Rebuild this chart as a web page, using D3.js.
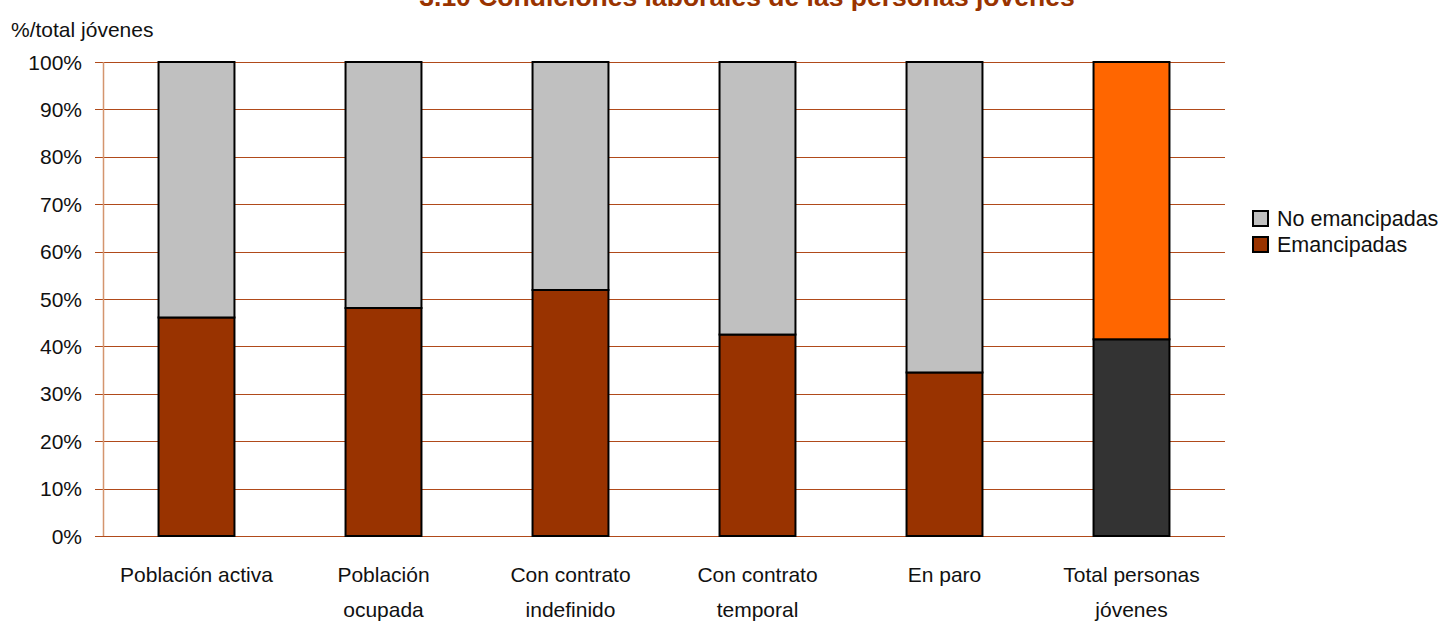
<!DOCTYPE html>
<html>
<head>
<meta charset="utf-8">
<script src="https://cdn.jsdelivr.net/npm/d3@7"></script>
<style>
  html, body { margin: 0; padding: 0; background: #fff; }
  svg { display: block; font-family: "Liberation Sans", Arial, sans-serif; }
</style>
</head>
<body>
<svg id="chart" width="1442" height="622"></svg>
<script>
// chart data
const categories = ['Población activa', 'Población ocupada', 'Con contrato indefinido', 'Con contrato temporal', 'En paro', 'Total personas jóvenes'];
const categoryLines = [['Población activa'], ['Población', 'ocupada'], ['Con contrato', 'indefinido'], ['Con contrato', 'temporal'], ['En paro'], ['Total personas', 'jóvenes']];
const emancipadas = [46.1, 48.1, 51.9, 42.5, 34.5, 41.5];
const noEmancipadas = [53.9, 51.9, 48.1, 57.5, 65.5, 58.5];
const yTicks = [0, 10, 20, 30, 40, 50, 60, 70, 80, 90, 100];
const seriesNames = ['No emancipadas', 'Emancipadas'];

const BROWN = '#993300';
const GRAY = '#c0c0c0';
const GRID = '#b04a1a';

const svg = d3.select('#chart');
const plotLeft = 103, plotRight = 1225, plotTop = 62, plotBottom = 536;

const x = d3.scaleBand()
  .domain(categories)
  .range([plotLeft, plotRight])
  .paddingInner(0.594)
  .paddingOuter(0.297);

const y = d3.scaleLinear().domain([0, 100]).range([plotBottom, plotTop]);

// title sits partly above the top edge, as in the source image
svg.append('text')
  .attr('x', 747)
  .attr('y', 6)
  .attr('text-anchor', 'middle')
  .attr('font-size', 26.5)
  .attr('font-weight', 'bold')
  .attr('fill', BROWN)
  .text('3.10 Condiciones laborales de las personas jóvenes');

svg.append('text')
  .attr('x', 11)
  .attr('y', 37)
  .attr('font-size', 21)
  .attr('fill', '#111')
  .text('%/total jóvenes');

// gridlines
svg.append('g').selectAll('line')
  .data(yTicks)
  .join('line')
  .attr('x1', plotLeft - 8)
  .attr('x2', plotRight)
  .attr('y1', (d) => Math.round(y(d)) + 0.5)
  .attr('y2', (d) => Math.round(y(d)) + 0.5)
  .attr('stroke', GRID)
  .attr('stroke-width', 1);

// y axis line
svg.append('line')
  .attr('x1', plotLeft + 0.5).attr('x2', plotLeft + 0.5)
  .attr('y1', plotTop).attr('y2', plotBottom)
  .attr('stroke', '#d4956e')
  .attr('stroke-width', 1.5);

// y tick labels
svg.append('g').selectAll('text')
  .data(yTicks)
  .join('text')
  .attr('x', 82)
  .attr('y', (d) => y(d) + 7.5)
  .attr('text-anchor', 'end')
  .attr('font-size', 21)
  .attr('fill', '#111')
  .text((d) => `${d}%`);

// stacked bars
const bars = svg.append('g');
categories.forEach((c, i) => {
  const isTotal = i === categories.length - 1;
  const x0 = x(c);
  bars.append('rect')
    .attr('x', x0)
    .attr('width', x.bandwidth())
    .attr('y', y(emancipadas[i]))
    .attr('height', y(0) - y(emancipadas[i]))
    .attr('fill', isTotal ? '#333333' : BROWN)
    .attr('stroke', '#000')
    .attr('stroke-width', 2);
  bars.append('rect')
    .attr('x', x0)
    .attr('width', x.bandwidth())
    .attr('y', y(emancipadas[i] + noEmancipadas[i]))
    .attr('height', y(emancipadas[i]) - y(emancipadas[i] + noEmancipadas[i]))
    .attr('fill', isTotal ? '#ff6600' : GRAY)
    .attr('stroke', '#000')
    .attr('stroke-width', 2);
});

// category labels
const labels = svg.append('g').selectAll('text')
  .data(categories)
  .join('text')
  .attr('text-anchor', 'middle')
  .attr('font-size', 21)
  .attr('fill', '#111');
labels.each(function (c, i) {
  d3.select(this).selectAll('tspan')
    .data(categoryLines[i])
    .join('tspan')
    .attr('x', x(c) + x.bandwidth() / 2)
    .attr('y', (d, j) => 582 + j * 35)
    .text((d) => d);
});

// legend
const legendColors = [GRAY, BROWN];
const legend = svg.append('g').selectAll('g')
  .data(seriesNames)
  .join('g')
  .attr('transform', (d, i) => `translate(1253, ${211 + i * 26})`);
legend.append('rect')
  .attr('width', 15).attr('height', 15)
  .attr('fill', (d, i) => legendColors[i])
  .attr('stroke', '#000')
  .attr('stroke-width', 2);
legend.append('text')
  .attr('x', 24)
  .attr('y', 15)
  .attr('font-size', 21.5)
  .attr('fill', '#111')
  .text((d) => d);
</script>
</body>
</html>
